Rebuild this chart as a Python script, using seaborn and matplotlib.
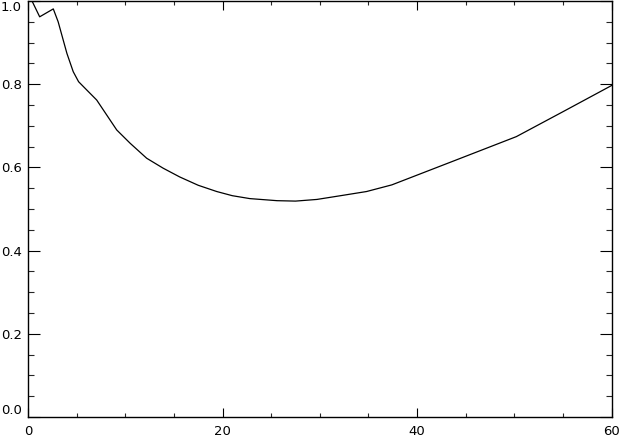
import numpy as np
import pandas as pd
import matplotlib
matplotlib.use("Agg")
import matplotlib.pyplot as plt
import seaborn as sns
from matplotlib.ticker import MultipleLocator

x_vals = [0.0, 1.2, 2.6, 3.1, 4.0, 4.65, 5.2, 6.0, 7.06, 8.09, 9.12, 10.5, 12.2, 13.9,
          15.6, 17.5, 19.4, 21.0, 22.8, 25.6, 27.5, 29.7, 32.4, 34.8, 37.4, 43.7,
          50.2, 55.0, 60.0]
y_vals = [1.02, 0.962, 0.981, 0.950, 0.874, 0.830, 0.806, 0.787, 0.762, 0.726, 0.690,
          0.658, 0.622, 0.598, 0.577, 0.557, 0.542, 0.532, 0.525, 0.520, 0.519, 0.523,
          0.533, 0.542, 0.558, 0.615, 0.674, 0.734, 0.797]

df = pd.DataFrame({"x": x_vals, "y": y_vals})

sns.set_theme(style="white")
plt.rcParams["font.family"] = ["DejaVu Sans"]

W, H = 621, 438
fig = plt.figure(figsize=(W / 100, H / 100), dpi=100)
ax = fig.add_axes([28 / W, (H - 417) / H, (611.7 - 28) / W, 416 / H])

sns.lineplot(data=df, x="x", y="y", ax=ax, color="black", linewidth=0.9,
             estimator=None, sort=False)

ax.set_xlim(0, 60)
ax.set_ylim(0, 1.0)
ax.set_xlabel("")
ax.set_ylabel("")
ax.xaxis.set_major_locator(MultipleLocator(20))
ax.xaxis.set_minor_locator(MultipleLocator(5))
ax.yaxis.set_major_locator(MultipleLocator(0.2))
ax.yaxis.set_minor_locator(MultipleLocator(0.05))
ax.yaxis.set_major_formatter(matplotlib.ticker.FormatStrFormatter("%.1f"))

for s in ax.spines.values():
    s.set_color("black")
    s.set_linewidth(1.0)

ax.tick_params(axis="x", which="major", direction="in", length=6.2, width=0.8,
               top=True, bottom=True, labelsize=9.5, pad=6, colors="black")
ax.tick_params(axis="x", which="minor", direction="in", length=3.1, width=0.8,
               top=True, bottom=True)
ax.tick_params(axis="y", which="major", direction="in", length=8.6, width=0.8,
               left=True, right=True, labelsize=9.5, pad=4.5, colors="black")
ax.tick_params(axis="y", which="minor", direction="in", length=4.3, width=0.8,
               left=True, right=True)
ax.grid(False)

fig.canvas.draw()
ylabels = ax.get_yticklabels()
for lab in ylabels:
    if lab.get_text() == "1.0":
        lab.set_verticalalignment("top")
    elif lab.get_text() == "0.0":
        lab.set_verticalalignment("bottom")

fig.savefig("out.png", dpi=100)
